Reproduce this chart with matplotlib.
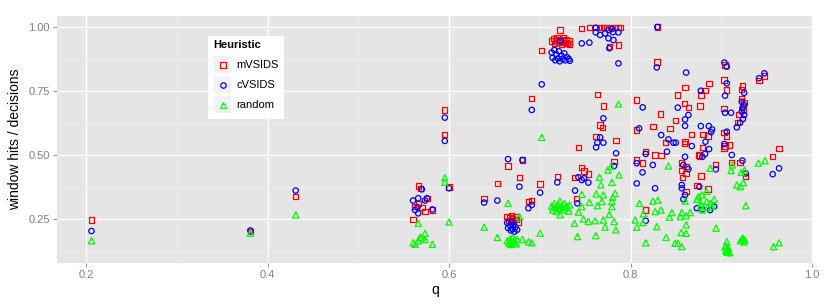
import matplotlib
matplotlib.use("Agg")
import matplotlib.pyplot as plt
from matplotlib.lines import Line2D
from matplotlib.patches import Rectangle
from matplotlib.ticker import MultipleLocator

plt.rcParams['font.family'] = ['Liberation Sans', 'DejaVu Sans']

# mVSIDS (red squares)
q_mvsids = [0.206, 0.381, 0.431,
            0.5603, 0.5625, 0.566, 0.566, 0.570, 0.5735, 0.5757, 0.5685, 0.5816,
            0.5953, 0.5953, 0.600,
            0.6386, 0.6532, 0.665, 0.6808, 0.6775, 0.7003, 0.6874, 0.6911, 0.6911, 0.7021,
            0.664, 0.666, 0.667, 0.668, 0.669, 0.670, 0.671, 0.673, 0.674, 0.676,
            0.713, 0.715, 0.716, 0.718, 0.719, 0.721, 0.722, 0.724, 0.725, 0.726, 0.728, 0.729, 0.730, 0.732, 0.733,
            0.7223, 0.7462, 0.7546, 0.762, 0.766, 0.770, 0.774, 0.778, 0.782, 0.786, 0.789,
            0.7766, 0.7866, 0.8295,
            0.7634, 0.770, 0.7664, 0.7688, 0.762, 0.7425, 0.784, 0.7818,
            0.7462, 0.7488, 0.7535, 0.7388, 0.7193, 0.7407,
            0.8068, 0.8333, 0.8245, 0.8068, 0.8435, 0.8388, 0.827, 0.8167, 0.8068, 0.8134,
            0.852, 0.860, 0.8593, 0.8637, 0.8498, 0.8674, 0.860, 0.8751, 0.8593,
            0.8774, 0.8821, 0.8862, 0.8765, 0.8799, 0.8854, 0.8791, 0.8758,
            0.9041, 0.903, 0.906, 0.903, 0.903, 0.906, 0.903, 0.9041,
            0.9232, 0.9225, 0.9225, 0.9251, 0.9232, 0.9244, 0.9196, 0.9178,
            0.9416, 0.9474, 0.9636, 0.9566,
            0.8564, 0.8612, 0.8564, 0.8612, 0.8575, 0.8774, 0.8612, 0.873, 0.8851, 0.8167,
            0.8939, 0.9089, 0.9115, 0.9207, 0.9269, 0.8290, 0.8335]
y_mvsids = [0.246, 0.200, 0.337,
            0.249, 0.298, 0.379, 0.311, 0.296, 0.279, 0.331, 0.370, 0.285,
            0.676, 0.581, 0.375,
            0.330, 0.389, 0.457, 0.480, 0.411, 0.387, 0.318, 0.322, 0.720, 0.907,
            0.260, 0.245, 0.255, 0.240, 0.262, 0.250, 0.243, 0.257, 0.248, 0.238,
            0.945, 0.955, 0.935, 0.948, 0.960, 0.940, 0.952, 0.932, 0.945, 0.958, 0.940, 0.950, 0.935, 0.945, 0.933,
            0.988, 0.995, 0.997, 0.997, 0.997, 0.997, 0.997, 0.997, 0.997, 0.997, 0.997,
            0.923, 0.930, 1.000,
            0.737, 0.691, 0.617, 0.607, 0.572, 0.530, 0.556, 0.474,
            0.450, 0.438, 0.426, 0.413, 0.415, 0.331,
            0.715, 0.660, 0.611, 0.598, 0.604, 0.548, 0.500, 0.513, 0.480, 0.468,
            0.734, 0.763, 0.702, 0.686, 0.634, 0.581, 0.552, 0.500, 0.545,
            0.734, 0.751, 0.780, 0.691, 0.581, 0.574, 0.530, 0.496,
            0.852, 0.793, 0.754, 0.682, 0.588, 0.574, 0.528, 0.535,
            0.770, 0.757, 0.721, 0.704, 0.690, 0.676, 0.659, 0.626,
            0.790, 0.809, 0.526, 0.493,
            0.468, 0.455, 0.439, 0.428, 0.413, 0.418, 0.357, 0.380, 0.367, 0.285,
            0.464, 0.539, 0.470, 0.470, 0.415, 0.864, 0.499]

# cVSIDS (blue circles)
q_cvsids = [0.206, 0.381, 0.431,
            0.5625, 0.5603, 0.566, 0.570, 0.5735, 0.5757, 0.566, 0.5652, 0.5816,
            0.5953, 0.5953, 0.600,
            0.6386, 0.6532, 0.665, 0.6808, 0.6775, 0.7003, 0.6874, 0.6911, 0.6911, 0.7021,
            0.664, 0.665, 0.667, 0.668, 0.669, 0.670, 0.671, 0.672, 0.673, 0.675,
            0.713, 0.714, 0.716, 0.717, 0.718, 0.720, 0.721, 0.722, 0.724, 0.725, 0.727, 0.728, 0.730, 0.732, 0.733,
            0.7223, 0.7462, 0.7546,
            0.7616, 0.7616, 0.7664, 0.7719, 0.7756, 0.7793, 0.7805, 0.7866, 0.7756, 0.7811, 0.7766, 0.7866, 0.8295,
            0.770, 0.7664, 0.7634, 0.770, 0.762, 0.784, 0.7818,
            0.7425, 0.7462, 0.7488, 0.7535, 0.7193, 0.7388, 0.7413,
            0.8289, 0.8612, 0.8134, 0.8094, 0.8337, 0.8417, 0.8498, 0.8472, 0.8401, 0.8167,
            0.8131, 0.8068, 0.827, 0.8245, 0.8068, 0.8167,
            0.852, 0.8637, 0.860, 0.860, 0.8674, 0.860, 0.8582, 0.8637, 0.8564, 0.8564, 0.860, 0.8582,
            0.8774, 0.8774, 0.8862, 0.8897, 0.8887, 0.8825, 0.8865, 0.8821, 0.8791, 0.8758, 0.8939,
            0.873, 0.8791, 0.8876, 0.892,
            0.9033, 0.906, 0.906, 0.9041, 0.9041, 0.9107, 0.906, 0.9033, 0.9115,
            0.9251, 0.9225, 0.9251, 0.9232, 0.9225, 0.9251, 0.9239, 0.9207, 0.917, 0.9232, 0.9269,
            0.9416, 0.9474, 0.9636, 0.9566]
y_cvsids = [0.203, 0.205, 0.361,
            0.285, 0.322, 0.331, 0.366, 0.322, 0.331, 0.272, 0.296, 0.287,
            0.646, 0.555, 0.370,
            0.314, 0.322, 0.484, 0.480, 0.376, 0.353, 0.292, 0.305, 0.676, 0.776,
            0.235, 0.215, 0.225, 0.205, 0.240, 0.210, 0.228, 0.200, 0.218, 0.208,
            0.900, 0.880, 0.910, 0.870, 0.893, 0.877, 0.905, 0.866, 0.888, 0.875, 0.897, 0.870, 0.882, 0.875, 0.868,
            0.945, 0.936, 0.939,
            0.997, 0.979, 0.969, 0.975, 0.988, 0.992, 0.980, 0.979, 0.956, 0.949, 0.917, 0.858, 1.000,
            0.643, 0.569, 0.548, 0.548, 0.530, 0.507, 0.457,
            0.413, 0.402, 0.409, 0.392, 0.393, 0.361, 0.311,
            0.842, 0.822, 0.686, 0.604, 0.578, 0.561, 0.548, 0.548, 0.513, 0.504,
            0.432, 0.389, 0.370, 0.461, 0.468, 0.243,
            0.685, 0.656, 0.639, 0.614, 0.535, 0.493, 0.461, 0.445, 0.383, 0.370, 0.344, 0.327,
            0.751, 0.613, 0.613, 0.600, 0.589, 0.552, 0.523, 0.504, 0.493, 0.376, 0.444,
            0.292, 0.288, 0.285, 0.298,
            0.861, 0.845, 0.780, 0.732, 0.665, 0.665, 0.591, 0.543, 0.500,
            0.743, 0.708, 0.695, 0.682, 0.669, 0.656, 0.641, 0.626, 0.608, 0.478, 0.428,
            0.800, 0.819, 0.448, 0.425]

# random (green triangles)
q_random = [0.206, 0.381, 0.431,
            0.5603, 0.5625, 0.566, 0.566, 0.570, 0.5735, 0.5735, 0.568, 0.5816,
            0.5953, 0.5953, 0.600,
            0.6386, 0.6532, 0.665, 0.6808, 0.6775, 0.7003, 0.6874, 0.6911, 0.7021,
            0.664, 0.666, 0.667, 0.668, 0.669, 0.670, 0.671, 0.672, 0.674, 0.675,
            0.713, 0.714, 0.716, 0.717, 0.718, 0.720, 0.721, 0.722, 0.724, 0.725, 0.727, 0.728, 0.730, 0.732, 0.733, 0.7223,
            0.7749, 0.7785, 0.7873, 0.7656, 0.7793, 0.7672, 0.7462, 0.762, 0.770, 0.7829,
            0.7804, 0.7793, 0.7683, 0.7546, 0.7634, 0.7793, 0.7462, 0.7425, 0.7766, 0.7381,
            0.748, 0.7535, 0.7609, 0.770, 0.7818, 0.7719, 0.7837, 0.7414, 0.7616, 0.7866,
            0.8417, 0.8876, 0.8839, 0.8785, 0.8097, 0.8245, 0.830, 0.860, 0.873, 0.8774,
            0.8839, 0.8876, 0.892, 0.8747, 0.8141, 0.827, 0.8336, 0.8454, 0.8428, 0.8564,
            0.8656, 0.8546, 0.8612, 0.805, 0.8134, 0.8068, 0.8289, 0.8612, 0.8942, 0.8557,
            0.8612, 0.8391, 0.8167, 0.849, 0.852, 0.8564, 0.877, 0.885, 0.890, 0.879,
            0.9482, 0.9408, 0.9122, 0.9107, 0.9218, 0.9254, 0.9243, 0.917, 0.9207, 0.9269,
            0.906, 0.904, 0.905, 0.906, 0.907, 0.908, 0.909, 0.905, 0.907, 0.906,
            0.9225, 0.921, 0.923, 0.925, 0.926, 0.924, 0.9574, 0.9636]
y_random = [0.165, 0.194, 0.266,
            0.157, 0.151, 0.233, 0.165, 0.178, 0.170, 0.194, 0.178, 0.151,
            0.411, 0.393, 0.238,
            0.218, 0.178, 0.311, 0.170, 0.259, 0.194, 0.161, 0.157, 0.569,
            0.165, 0.155, 0.172, 0.150, 0.162, 0.178, 0.158, 0.168, 0.152, 0.170,
            0.300, 0.285, 0.310, 0.295, 0.280, 0.305, 0.290, 0.320, 0.300, 0.285, 0.310, 0.295, 0.300, 0.280, 0.305, 0.266,
            0.441, 0.455, 0.422, 0.413, 0.393, 0.383, 0.346, 0.348, 0.344, 0.350,
            0.335, 0.318, 0.318, 0.315, 0.302, 0.298, 0.298, 0.276, 0.268, 0.233,
            0.250, 0.240, 0.243, 0.246, 0.240, 0.218, 0.207, 0.181, 0.185, 0.699,
            0.457, 0.448, 0.357, 0.344, 0.311, 0.320, 0.324, 0.320, 0.327, 0.311,
            0.318, 0.311, 0.327, 0.337, 0.270, 0.279, 0.285, 0.275, 0.257, 0.275,
            0.275, 0.259, 0.262, 0.246, 0.236, 0.218, 0.220, 0.227, 0.214, 0.197,
            0.194, 0.178, 0.157, 0.155, 0.155, 0.142, 0.300, 0.295, 0.300, 0.285,
            0.478, 0.468, 0.461, 0.439, 0.432, 0.441, 0.392, 0.383, 0.376, 0.302,
            0.161, 0.140, 0.125, 0.130, 0.120, 0.135, 0.118, 0.145, 0.128, 0.122,
            0.168, 0.165, 0.172, 0.160, 0.168, 0.175, 0.142, 0.157]

x_ticks = [0.2, 0.4, 0.6, 0.8, 1.0]
y_ticks = [0.25, 0.50, 0.75, 1.00]

fig = plt.figure(figsize=(8.3, 3.07), dpi=100)
ax = fig.add_axes([57 / 830, 44 / 307, 756 / 830, 247 / 307])
ax.set_facecolor('#E5E5E5')

ax.scatter(q_mvsids, y_mvsids, marker='s', s=15, facecolors='none',
           edgecolors='#FF0000', linewidths=0.9, zorder=3)
ax.scatter(q_cvsids, y_cvsids, marker='o', s=15, facecolors='none',
           edgecolors='#0000FF', linewidths=0.9, zorder=3)
ax.scatter(q_random, y_random, marker='^', s=20, facecolors='none',
           edgecolors='#00FF00', linewidths=0.9, zorder=3)

ax.set_xlim(0.168, 1.001)
ax.set_ylim(0.078, 1.043)
ax.set_xticks(x_ticks)
ax.set_xticklabels(['%.1f' % v for v in x_ticks])
ax.set_yticks(y_ticks)
ax.set_yticklabels(['%.2f' % v for v in y_ticks])
ax.xaxis.set_minor_locator(MultipleLocator(0.1))
ax.yaxis.set_minor_locator(MultipleLocator(0.125))
ax.grid(True, which='major', color='white', linewidth=1.0, zorder=0)
ax.grid(True, which='minor', color='#F2F2F2', linewidth=0.5, zorder=0)
ax.set_axisbelow(True)
for s in ax.spines.values():
    s.set_visible(False)
ax.tick_params(which='major', length=3, width=0.6, color='#7F7F7F',
               labelcolor='#7F7F7F', labelsize=8, pad=2)
ax.tick_params(which='minor', length=0)

ax.set_xlabel('q', fontsize=10, labelpad=2)
ax.set_ylabel('window hits / decisions', fontsize=10, labelpad=5)

# legend drawn by hand, ggplot style
fig.add_artist(Rectangle((208 / 830, 1 - 119 / 307), 76 / 830, 83 / 307,
                         transform=fig.transFigure, facecolor='white',
                         edgecolor='none', zorder=5))
fig.text(213 / 830, 1 - 45 / 307, 'Heuristic', fontsize=8, fontweight='bold',
         va='center', ha='left', zorder=6)
labels = ['mVSIDS', 'cVSIDS', 'random']
markers = ['s', 'o', '^']
colors = ['#FF0000', '#0000FF', '#00FF00']
sizes = [3.9, 3.9, 4.5]
for i in range(3):
    yc = 64.7 + 20 * i
    fig.add_artist(Rectangle((214 / 830, 1 - (yc + 8.5) / 307), 17 / 830, 17 / 307,
                             transform=fig.transFigure, facecolor='#F2F2F2',
                             edgecolor='none', zorder=6))
    fig.add_artist(Line2D([222.7 / 830], [1 - yc / 307], transform=fig.transFigure,
                          marker=markers[i], markersize=sizes[i], markerfacecolor='none',
                          markeredgecolor=colors[i], markeredgewidth=0.9,
                          linestyle='none', zorder=7))
    fig.text(236 / 830, 1 - yc / 307, labels[i], fontsize=8, va='center',
             ha='left', zorder=7)

fig.savefig('out.png', dpi=100)
